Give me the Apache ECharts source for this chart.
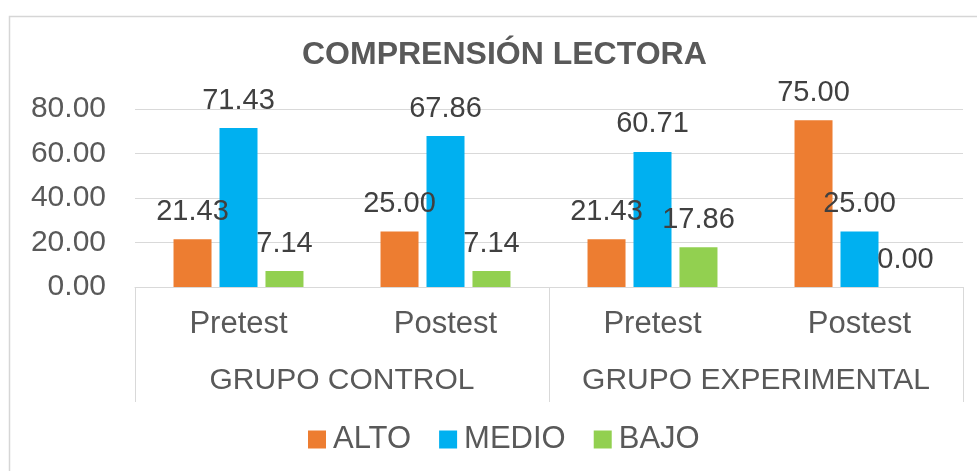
<!DOCTYPE html>
<html lang="es">
<head>
    <meta charset="UTF-8">
    <title>Comprensión lectora</title>
    <script src="https://cdn.jsdelivr.net/npm/echarts@6/dist/echarts.min.js"></script>
    <style>
        html, body { margin: 0; padding: 0; background: #fff; }
    </style>
</head>
<body>
    <div id="main" style="width: 977px;height: 471px"></div>
    <script type="application/javascript">
        // datos del gráfico
        var fases = ['Pretest', 'Postest', 'Pretest', 'Postest'];
        var grupos = ['GRUPO CONTROL', 'GRUPO EXPERIMENTAL'];
        var alto = [21.43, 25.00, 21.43, 75.00];
        var medio = [71.43, 67.86, 60.71, 25.00];
        var bajo = [7.14, 7.14, 17.86, 0.00];

        var fuente = 'Arial, "Liberation Sans", sans-serif';
        var gris = '#595959';
        var linea = '#d9d9d9';

        var myChart = echarts.init(document.getElementById('main'));

        function serie(nombre, datos, color) {
            return {
                name: nombre,
                type: 'bar',
                data: datos,
                barWidth: 38,
                barGap: '21%',
                itemStyle: { color: color },
                label: {
                    show: true,
                    position: 'top',
                    distance: 13,
                    color: '#404040',
                    fontFamily: fuente,
                    fontSize: 29,
                    formatter: function (p) { return p.value.toFixed(2); }
                }
            };
        }

        var option = {
            backgroundColor: '#fff',
            animation: false,
            title: {
                text: 'COMPRENSIÓN LECTORA',
                left: 302,
                top: 39,
                padding: 0,
                textStyle: {
                    color: gris,
                    fontFamily: fuente,
                    fontWeight: 'bold',
                    fontSize: 32
                }
            },
            legend: {
                data: ['ALTO', 'MEDIO', 'BAJO'],
                left: 308,
                top: 424,
                padding: 0,
                icon: 'rect',
                itemWidth: 18,
                itemHeight: 18,
                itemGap: 28,
                textStyle: {
                    color: gris,
                    fontFamily: fuente,
                    fontSize: 31,
                    padding: [0, 0, 0, 2]
                }
            },
            grid: {
                left: 135,
                right: 14,
                top: 109,
                bottom: 184,
                containLabel: false
            },
            xAxis: [
                {
                    type: 'category',
                    data: fases,
                    position: 'bottom',
                    axisLine: { show: true, lineStyle: { color: linea, width: 1 } },
                    axisTick: { show: false },
                    axisLabel: {
                        interval: 0,
                        color: gris,
                        fontFamily: fuente,
                        fontSize: 31,
                        margin: 22
                    }
                },
                {
                    type: 'category',
                    data: grupos,
                    position: 'bottom',
                    axisLine: { show: false },
                    axisTick: {
                        show: true,
                        interval: 0,
                        length: 115,
                        lineStyle: { color: linea, width: 1 }
                    },
                    axisLabel: {
                        interval: 0,
                        hideOverlap: false,
                        color: gris,
                        fontFamily: fuente,
                        fontSize: 30,
                        margin: 79
                    }
                }
            ],
            yAxis: {
                type: 'value',
                min: 0,
                max: 80,
                interval: 20,
                axisLine: { show: false },
                axisTick: { show: false },
                splitLine: { lineStyle: { color: linea, width: 1 } },
                axisLabel: {
                    color: gris,
                    fontFamily: fuente,
                    fontSize: 30,
                    margin: 29,
                    formatter: function (v) { return v.toFixed(2); }
                }
            },
            graphic: [
                {
                    type: 'rect',
                    shape: { x: 9.5, y: 16.5, width: 1000, height: 500 },
                    style: { fill: 'none', stroke: '#d6d6d6', lineWidth: 1.5 },
                    silent: true,
                    z: -1
                }
            ],
            series: [
                serie('ALTO', alto, '#ED7D31'),
                serie('MEDIO', medio, '#00B0F0'),
                serie('BAJO', bajo, '#92D050')
            ]
        };

        myChart.setOption(option, true);
    </script>
</body>
</html>
